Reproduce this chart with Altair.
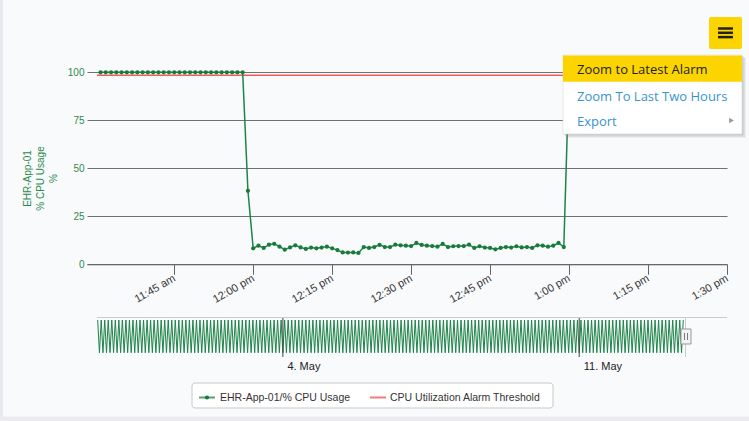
import altair as alt
import pandas as pd

# ---------------- data ----------------
DAY = "2023-05-13"
cpu_first_time = "11:31"          # one reading per minute
cpu_values = (
    [100] * 28
    + [38.3]
    + [8.3, 9.7, 8.5, 10.2, 10.7, 9.2, 7.6, 8.8, 9.9, 8.8,
       8.0, 8.7, 8.3, 8.7, 9.2, 8.3, 7.4, 6.2, 6.1, 6.2,
       5.9, 9.0, 8.5, 9.0, 10.1, 9.0, 9.0, 10.2, 9.9, 9.7,
       9.5, 11.1, 10.1, 9.7, 9.5, 9.2, 10.6, 9.0, 9.4, 9.5,
       9.5, 10.2, 8.5, 9.4, 8.7, 8.5, 7.8, 8.5, 9.0, 8.7,
       9.4, 8.8, 9.0, 8.5, 9.9, 9.7, 9.2, 9.7, 11.1, 9.0]
    + [100] * 30
)
threshold_times = ["2023-05-13T11:30:20", "2023-05-13T13:30:00"]
threshold_value = 98.4

x_tick_times = ["11:45", "12:00", "12:15", "12:30", "12:45", "13:00", "13:15", "13:30"]
y_ticks = [0, 25, 50, 75, 100]

# navigator: hourly history, alternating one busy hour / one quiet hour
nav_first_hour = "2023-04-29 15:00"
nav_cycle = [100, 9]
nav_values = nav_cycle * 166 + [100]
nav_label_days = [4, 11]

series_name = "EHR-App-01/% CPU Usage"
threshold_name = "CPU Utilization Alarm Threshold"
y_title = ["EHR-App-01", "% CPU Usage", "%"]
menu_items = ["Zoom to Latest Alarm", "Zoom To Last Two Hours", "Export"]

# ---------------- tables ----------------
main_times = pd.date_range(f"{DAY} {cpu_first_time}", periods=len(cpu_values), freq="1min")
main_df = pd.DataFrame({"time": main_times.strftime("%Y-%m-%dT%H:%M:%S"), "cpu": cpu_values})
thr_df = pd.DataFrame({"time": threshold_times, "cpu": [threshold_value] * 2})
nav_times = pd.date_range(nav_first_hour, periods=len(nav_values), freq="1h")
nav_df = pd.DataFrame({"time": nav_times.strftime("%Y-%m-%dT%H:%M:%S"), "v": nav_values})
nav_rule_df = pd.DataFrame({"time": [f"2023-05-{d:02d}T00:00:00" for d in nav_label_days]})


def dt(y, mo, d, h=0, mi=0, s=0):
    return alt.DateTime(year=y, month=mo, date=d, hours=h, minutes=mi, seconds=s)


x_tick_values = [dt(2023, 5, 13, int(t[:2]), int(t[3:])) for t in x_tick_times]

# ---------------- style ----------------
L = 87            # left padding (plot origin x on the page)
GREEN = "#1e8449"
AXIS_GREEN = "#2b8a4b"
FONT = "Liberation Sans"
MENU_FONT = "Open Sans"
YELLOW = "#fcd500"

main_x = alt.X(
    "time:T",
    scale=alt.Scale(domain=[dt(2023, 5, 13, 11, 28, 26), dt(2023, 5, 13, 13, 30, 0)], range=[0, 640]),
    axis=alt.Axis(
        orient="bottom", offset=264.3 - 421, values=x_tick_values,
        labelExpr="lower(timeFormat(datum.value, '%-I:%M %p'))",
        labelAngle=-30, labelAlign="right", labelBaseline="middle", labelPadding=3,
        labelFont=FONT, labelFontSize=11, labelColor="#333",
        labelOverlap=False, labelFlush=False, labelBound=False,
        tickSize=10, tickColor="#666", domainColor="#666", grid=False, title=None,
    ),
)
main_y = alt.Y(
    "cpu:Q",
    scale=alt.Scale(domain=[0, 100], range=[264.3, 72.3], nice=False, zero=False),
    axis=alt.Axis(
        orient="left", values=y_ticks, grid=True, gridColor="#707070", gridOpacity=1,
        domain=False, ticks=False, labelColor=AXIS_GREEN, labelFont=FONT, labelFontSize=10,
        labelPadding=3, title=y_title, titleColor=AXIS_GREEN,
        titleFont=FONT, titleFontSize=10, titleFontWeight="normal", titleAngle=270,
        titleX=-65, titleY=178, titleAlign="center", titleBaseline="top", titleLineHeight=13,
    ),
)

thr = alt.Chart(thr_df).mark_line(color="#f25c5c", strokeWidth=1.5).encode(x=main_x, y=main_y)
line = alt.Chart(main_df).mark_line(color=GREEN, strokeWidth=1.5).encode(x=main_x, y=main_y)
pts = alt.Chart(main_df).mark_circle(color="#197a3c", size=18, opacity=1).encode(x=main_x, y=main_y)
main = alt.layer(thr, line, pts)

nav_x_scale = alt.Scale(domain=[dt(2023, 4, 29, 14, 37), dt(2023, 5, 14, 11, 47)], range=[10, 640])
nav_x = alt.X(
    "time:T", scale=nav_x_scale,
    axis=alt.Axis(
        orient="bottom", offset=357 - 421, values=[dt(2023, 5, d) for d in nav_label_days],
        format="%-d. %b", labelAlign="left", labelOffset=4, labelBaseline="top", labelPadding=3,
        labelFont=FONT, labelFontSize=11, labelColor="#222", ticks=False, domain=False,
        grid=False, title=None, labelFlush=False, labelBound=False,
    ),
)
nav_line = alt.Chart(nav_df).mark_line(color=GREEN, strokeWidth=1).encode(
    x=nav_x, y=alt.Y("v:Q", scale=alt.Scale(domain=[0, 100], range=[356, 320]), axis=None)
)
nav_rules = alt.Chart(nav_rule_df).mark_rule(color="#444", strokeWidth=1).encode(
    x=nav_x, y=alt.value(317), y2=alt.value(357)
)
nav = alt.layer(nav_line, nav_rules)

one = alt.Data(values=[{"a": 1}])


def rect(x1, x2, y1, y2, **kw):
    return alt.Chart(one).mark_rect(**kw).encode(
        x=alt.value(x1 - L), x2=alt.value(x2 - L), y=alt.value(y1), y2=alt.value(y2))


def hrule(x1, x2, y, **kw):
    return alt.Chart(one).mark_rule(**kw).encode(
        x=alt.value(x1 - L), x2=alt.value(x2 - L), y=alt.value(y))


def vrule(x, y1, y2, **kw):
    return alt.Chart(one).mark_rule(**kw).encode(
        x=alt.value(x - L), y=alt.value(y1), y2=alt.value(y2))


def text(x, y, s, **kw):
    return alt.Chart(one).mark_text(**kw).encode(
        x=alt.value(x - L), y=alt.value(y), text=alt.value(s))


decor = [
    # page edges
    rect(0, 3, 0, 421, color="#e8e9ee"),
    rect(0, 749, 416.5, 421, color="#ececf0"),
    # navigator chrome
    hrule(97, 727, 317.5, color="#cccccc", strokeWidth=1),
    vrule(685.5, 317, 357, color="#cccccc", strokeWidth=1),
    rect(681, 691, 329, 344, fill="#f2f2f2", stroke="#999999", strokeWidth=1),
    vrule(684.5, 333, 340, color="#777777", strokeWidth=1),
    vrule(687.5, 333, 340, color="#777777", strokeWidth=1),
    # legend
    rect(192, 553, 383, 408, fill="#ffffff", stroke="#c8c8c8", strokeWidth=1, cornerRadius=3),
    hrule(199, 215, 397.5, color="#55a072", strokeWidth=2),
    alt.Chart(one).mark_circle(color="#197a3c", size=18, opacity=1).encode(
        x=alt.value(207 - L), y=alt.value(397.5)),
    text(220, 397.5, series_name, align="left", baseline="middle", font=FONT, fontSize=10.5, color="#333"),
    hrule(370, 386, 397.5, color="#f47a7a", strokeWidth=2),
    text(390, 397.5, threshold_name, align="left", baseline="middle", font=FONT, fontSize=10.5, color="#333"),
    # hamburger button
    rect(709, 742, 17, 49, color=YELLOW, cornerRadius=2),
    hrule(718, 733, 28.5, color="#222", strokeWidth=2.5),
    hrule(718, 733, 32.8, color="#222", strokeWidth=2.5),
    hrule(718, 733, 37.1, color="#222", strokeWidth=2.5),
    # context menu with shadow
    rect(566, 746, 58, 138, color="#888", opacity=0.10),
    rect(565, 745, 57, 137, color="#888", opacity=0.14),
    rect(564, 743.5, 56, 135.5, color="#888", opacity=0.22),
    rect(563, 742, 55, 134, fill="#ffffff", stroke="#d0d0d0", strokeWidth=0.5),
    rect(563, 742, 55.5, 81.7, color=YELLOW),
    text(577, 70, menu_items[0], align="left", baseline="middle", font=MENU_FONT, fontSize=13, color="#222"),
    text(577, 96.5, menu_items[1], align="left", baseline="middle", font=MENU_FONT, fontSize=13, color="#3a93cf"),
    text(577, 122.3, menu_items[2], align="left", baseline="middle", font=MENU_FONT, fontSize=13, color="#3a93cf"),
    alt.Chart(one).mark_point(shape="triangle-right", filled=True, size=30, color="#999", opacity=1).encode(
        x=alt.value(731.5 - L), y=alt.value(120.5)),
]

chart = alt.layer(main, nav, *decor).resolve_scale(x="independent", y="independent").properties(
    width=640, height=421, autosize="none",
    padding={"left": L, "top": 0, "right": 22, "bottom": 0},
    background="#f9fafc",
).configure_view(stroke=None)

chart.save("out.html", embed_options={"renderer": "svg", "actions": False})
